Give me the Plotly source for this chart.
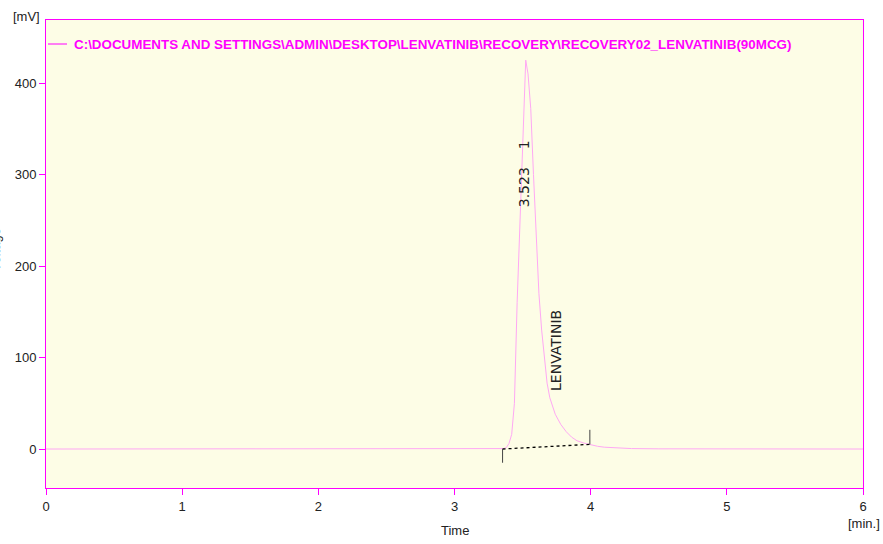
import plotly.graph_objects as go

# Chromatogram data (time in min, signal in mV)
time_min = [0.0, 1.0, 2.0, 3.0, 3.30, 3.34, 3.36, 3.38, 3.40, 3.42, 3.44, 3.46, 3.48, 3.50,
            3.52, 3.523, 3.54, 3.56, 3.58, 3.60, 3.62, 3.64, 3.66, 3.68, 3.70, 3.74,
            3.78, 3.82, 3.86, 3.90, 3.95, 4.00, 4.05, 4.10, 4.20, 4.30, 4.50, 5.0, 6.0]
signal_mv = [0.0, 0.0, 0.0, 0.0, 0.0, 0.2, 0.5, 1.5, 6, 16, 50, 160, 250, 345,
             420, 425, 410, 372, 300, 235, 170, 130, 98, 72, 56, 38,
             27, 19, 13, 9, 6.5, 4.5, 3, 2, 1, 0.5, 0.2, 0.0, 0.0]

# Integration baseline
base_t = [3.353, 3.994]
base_v = [0.0, 5.1]
start_tick_v = [0.0, -15.0]
end_tick_v = [5.1, 21.0]

peak_rt = "3.523"
peak_no = "1"
peak_name = "LENVATINIB"
legend_text = "C:\\DOCUMENTS AND SETTINGS\\ADMIN\\DESKTOP\\LENVATINIB\\RECOVERY\\RECOVERY02_LENVATINIB(90MCG)"

x_ticks = [0, 1, 2, 3, 4, 5, 6]
y_ticks = [0, 100, 200, 300, 400]

MAG = "#ff00ff"
FONT = "Liberation Sans, Arial, sans-serif"
LBL_FONT = "DejaVu Sans, Liberation Sans, sans-serif"

fig = go.Figure()
fig.add_trace(go.Scatter(x=time_min, y=signal_mv, mode="lines",
                         line=dict(color="#ffa8f4", width=1), showlegend=False, hoverinfo="skip"))
fig.add_trace(go.Scatter(x=base_t, y=base_v, mode="lines",
                         line=dict(color="black", width=1.3, dash="dot"), showlegend=False))
fig.add_trace(go.Scatter(x=[base_t[0], base_t[0]], y=start_tick_v, mode="lines",
                         line=dict(color="#444", width=1), showlegend=False))
fig.add_trace(go.Scatter(x=[base_t[1], base_t[1]], y=end_tick_v, mode="lines",
                         line=dict(color="#444", width=1), showlegend=False))

fig.add_annotation(x=3.512, y=(449-187)/0.915, text=peak_rt, textangle=-90, showarrow=False,
                   font=dict(family=LBL_FONT, size=14, color="#222"))
fig.add_annotation(x=3.512, y=(449-145)/0.915, text=peak_no, textangle=-90, showarrow=False,
                   font=dict(family=LBL_FONT, size=14, color="#222"))
fig.add_annotation(x=3.745, y=(449-350)/0.915, text=peak_name, textangle=-90, showarrow=False,
                   font=dict(family=LBL_FONT, size=14, color="#222"))

# legend
fig.add_shape(type="line", xref="paper", yref="paper",
              x0=(48-46)/817, x1=(67-46)/817, y0=(488-44)/468, y1=(488-44)/468,
              line=dict(color=MAG, width=1))
fig.add_annotation(xref="paper", yref="paper", x=(72-46)/817, y=(488-44)/468,
                   xanchor="left", yanchor="middle", showarrow=False, text="<b>" + legend_text + "</b>",
                   font=dict(family=FONT, size=13.4, color=MAG))

# unit labels
fig.add_annotation(xref="paper", yref="paper", x=(42-46)/817, y=(488-16)/468, xanchor="right",
                   yanchor="middle", showarrow=False, text="[mV]",
                   font=dict(family=FONT, size=13, color="#222"))
fig.add_annotation(xref="paper", yref="paper", x=(864-46)/817, y=(488-523)/468, xanchor="center",
                   yanchor="middle", showarrow=False, text="[min.]",
                   font=dict(family=FONT, size=13, color="#222"))
fig.add_annotation(xref="paper", yref="paper", x=(455-46)/817, y=(488-530)/468, xanchor="center",
                   yanchor="middle", showarrow=False, text="Time",
                   font=dict(family=FONT, size=13, color="#222"))
fig.add_annotation(xref="paper", yref="paper", x=(4-46)/817, y=(488-250)/468, xanchor="right",
                   yanchor="middle", showarrow=False, text="Voltage", textangle=-90,
                   font=dict(family=FONT, size=13, color="#222"))

fig.update_layout(
    width=883, height=544,
    margin=dict(l=46, r=20, t=20, b=56),
    paper_bgcolor="white", plot_bgcolor="#fdfde6",
    font=dict(family=FONT, size=13, color="#222"),
    xaxis=dict(range=[0, 6], tickvals=x_ticks, showgrid=False, zeroline=False,
               showline=True, linecolor=MAG, linewidth=1, mirror=True,
               ticks="outside", ticklen=6, tickcolor=MAG, tickfont=dict(size=13, color="#222")),
    yaxis=dict(range=[-42.6, 468.9], tickvals=y_ticks, showgrid=False, zeroline=False,
               showline=True, linecolor=MAG, linewidth=1, mirror=True,
               ticks="outside", ticklen=6, tickcolor=MAG, tickfont=dict(size=13, color="#222")),
)

fig.write_html("out.html", config={"displayModeBar": False},
               post_script="document.body.style.margin='0px';")
